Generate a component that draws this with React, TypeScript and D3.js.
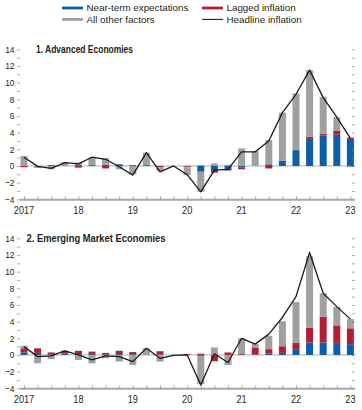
import {useRef,useEffect} from 'react'
import * as d3 from 'd3'

// quarters 2017Q1 .. 2023Q1
const quarters = d3.range(25)
const yearLabels = ['2017','18','19','20','21','22','23']
const yTicks = d3.range(-4,15,1)
const seriesNames = ['Near-term expectations','Lagged inflation','All other factors']
const colors = ['#0b5ea8','#b31f32','#a0a0a0']

// 1. Advanced Economies
const aeNear = [0,0,0.1,0.05,0.1,0.1,0.15,0.2,0.1,0,0,0,-0.05,-0.7,-0.5,-0.5,-0.2,0,0.2,0.65,1.9,3.25,3.65,3.75,3.25]
const aeLagged = [-0.15,-0.05,0,0,-0.2,0,-0.3,0,0,0.1,-0.15,0,-0.1,0.05,-0.3,-0.05,-0.2,0,-0.3,0,0,0.25,0.2,0.45,0.15]
const aeOther = [1.2,-0.2,-0.4,0.4,0.3,0.95,0.8,-0.4,-1.0,1.5,-0.45,0,-0.95,-2.4,0.3,0.15,2.1,1.8,2.9,5.75,6.8,8.0,4.45,1.65,-0.15]
const aeHeadline = [1.05,-0.05,-0.3,0.4,0.25,1.05,0.8,-0.1,-1.1,1.6,-0.7,0,-1.05,-3.1,-0.5,-0.4,1.7,1.7,3.0,6.4,8.6,11.5,8.2,5.85,3.3]

// 2. Emerging Market Economies
const emNear = [0.3,0.25,0.05,0.2,0.1,0.1,0.05,0.1,0.1,0,0.05,0,0,-0.1,-0.1,0,0,0.05,0.15,0.25,0.7,1.5,1.5,1.45,1.3]
const emLagged = [0.5,0.55,0.25,0.3,0.4,0.3,0.2,0.4,0.25,0,0.4,0,0.1,0.15,-0.65,0.3,0.1,0.85,0.55,0.8,0.75,1.75,3.1,2.1,1.9]
const emOther = [0.3,-1.0,-0.5,0,-0.6,-1.0,-0.4,-0.8,-1.2,0.8,-0.8,0,0,-3.4,0.9,-1.2,1.9,0.4,1.6,3.0,4.9,8.6,2.8,2.2,1.1]
const emHeadline = [1.0,-0.2,-0.1,0.5,0,-0.6,-0.1,-0.2,-0.8,0.8,-0.4,-0.05,0,-3.6,0.15,-0.9,2.0,1.3,2.5,4.5,7.0,12.3,7.4,5.8,4.3]

const panels = [
  {title:'1. Advanced Economies', near:aeNear, lagged:aeLagged, other:aeOther, line:aeHeadline, top:49.3, tx:36, tw:97},
  {title:'2. Emerging Market Economies', near:emNear, lagged:emLagged, other:emOther, line:emHeadline, top:238.3, tx:26.5, tw:139},
]

const FONT = '"Liberation Sans",Arial,Helvetica,sans-serif'

function App() {
  const ref = useRef<SVGSVGElement>(null)
  useEffect(()=> {
    const svg = d3.select(ref.current)
    svg.selectAll('*').remove()
    const left = 20, right = 355
    const x = d3.scaleLinear().domain([0,24]).range([24,350.4])
    const barW = 7

    // legend
    const leg = svg.append('g').style('font-family',FONT).style('font-size','9.8px').attr('fill','#231f20')
    const legItems = [
      {name:seriesNames[0], c:colors[0], x:62, y:8, ty:11, type:'rect'},
      {name:seriesNames[1], c:colors[1], x:202, y:8, ty:11, type:'rect'},
      {name:seriesNames[2], c:colors[2], x:62, y:19.4, ty:22.7, type:'rect'},
      {name:'Headline inflation', c:'#222', x:202, y:19.4, ty:22.7, type:'line'},
    ]
    legItems.forEach(it=>{
      if(it.type==='rect') leg.append('rect').attr('x',it.x).attr('y',it.y-1.4).attr('width',21).attr('height',2.8).attr('fill',it.c)
      else leg.append('line').attr('x1',it.x).attr('x2',it.x+21).attr('y1',it.y).attr('y2',it.y).attr('stroke',it.c).attr('stroke-width',1.1)
      leg.append('text').attr('x',it.x+24.5).attr('y',it.ty).text(it.name)
    })

    panels.forEach(p=>{
      const y = d3.scaleLinear().domain([-4,14]).range([p.top+150,p.top])
      const g = svg.append('g')
      const rows = quarters.map(q=>({q, near:p.near[q], lagged:p.lagged[q], other:p.other[q]}))
      const stack = d3.stack<any>().keys(['near','lagged','other']).offset(d3.stackOffsetDiverging)
      const layers = stack(rows)

      // zero line
      g.append('line').attr('x1',left).attr('x2',right).attr('y1',y(0)).attr('y2',y(0))
        .attr('stroke','#9a9a9a').attr('stroke-width',0.8)

      layers.forEach((layer,i)=>{
        g.append('g').selectAll('rect').data(layer).enter().append('rect')
          .attr('x',(d:any)=>x(d.data.q)-barW/2)
          .attr('width',barW)
          .attr('y',(d:any)=>y(Math.max(d[0],d[1])))
          .attr('height',(d:any)=>Math.abs(y(d[0])-y(d[1])))
          .attr('fill',colors[i])
      })

      // left axis ticks + labels
      const ya = g.append('g').attr('transform',`translate(${left},0)`)
        .call(d3.axisLeft(y).tickValues(yTicks).tickSize(3).tickFormat(()=>''))
      ya.select('.domain').remove()
      ya.selectAll('line').attr('stroke','#777').attr('stroke-width',0.6)
      g.append('g').selectAll('text').data(yTicks.filter(d=>d%2===0)).enter().append('text')
        .attr('transform',d=>`translate(14.5,${y(d)}) scale(0.86,1)`)
        .attr('dy','0.33em').attr('text-anchor','end')
        .style('font-family',FONT).style('font-size','9.8px').attr('fill','#231f20')
        .text(d=> d<0 ? '\u2212'+(-d) : String(d))

      // right axis ticks
      const yr = g.append('g').attr('transform',`translate(${right},0)`)
        .call(d3.axisLeft(y).tickValues(yTicks).tickSize(3).tickFormat(()=>''))
      yr.select('.domain').remove()
      yr.selectAll('line').attr('stroke','#777').attr('stroke-width',0.6)

      // bottom axis
      g.append('line').attr('x1',left).attr('x2',right).attr('y1',y(-4)+0.5).attr('y2',y(-4)+0.5)
        .attr('stroke','#a8a8a8').attr('stroke-width',2)
      const xa = g.append('g').attr('transform',`translate(0,${y(-4)})`)
        .call(d3.axisTop(x).tickValues(quarters).tickSize(3).tickFormat(()=>''))
      xa.select('.domain').remove()
      xa.selectAll('line').attr('stroke','#777').attr('stroke-width',0.6)
      g.append('g').selectAll('text').data(yearLabels).enter().append('text')
        .attr('transform',(d,i)=>`translate(${x(i*4)},${y(-4)+14.5}) scale(0.9,1)`)
        .attr('text-anchor','middle').style('font-family',FONT).style('font-size','10.2px').attr('fill','#231f20')
        .text(d=>d)

      // headline line
      const line = d3.line<number>().x((d,i)=>x(i)).y(d=>y(d))
      g.append('path').datum(p.line).attr('d',line).attr('fill','none')
        .attr('stroke','#1a1a1a').attr('stroke-width',1.3).attr('stroke-linejoin','round')

      // title
      g.append('text').attr('x',p.tx).attr('y',p.top+3.4).text(p.title)
        .attr('textLength',p.tw).attr('lengthAdjust','spacingAndGlyphs')
        .style('font-family',FONT).style('font-size','10.4px').style('font-weight','bold').attr('fill','#231f20')
    })
  },[])

  return (
    <svg ref={ref} width={362} height={410} style={{position:'absolute',left:0,top:0,background:'#fff'}} />
  )
}

export default App
